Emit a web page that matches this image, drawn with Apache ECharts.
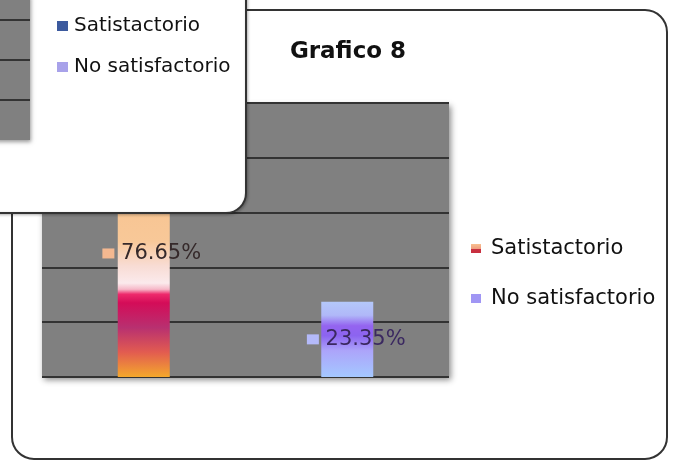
<!DOCTYPE html>
<html>
<head>
<meta charset="utf-8">
<script src="https://cdn.jsdelivr.net/npm/echarts@6/dist/echarts.min.js"></script>
<style>
html,body{margin:0;padding:0;background:#fff;}
#c{width:677px;height:462px;}
</style>
</head>
<body>
<div id="c"></div>
<script>
// ---- data ----
const title = 'Grafico 8';
const categories = ['Satistactorio', 'No satisfactorio'];
const seriesNames = ['Satistactorio', 'No satisfactorio'];
const satisfactorio = [0.7665, '-'];
const noSatisfactorio = ['-', 0.2335];
const axisMax = 0.85;
const axisInterval = 0.17;

const FONT = 'DejaVu Sans';
const chart = echarts.init(document.getElementById('c'));

const grad1 = new echarts.graphic.LinearGradient(0, 0, 0, 1, [
  {offset: 0, color: '#f7be88'},
  {offset: 0.45, color: '#f8c898'},
  {offset: 0.55, color: '#f8dcd4'},
  {offset: 0.62, color: '#fbeaec'},
  {offset: 0.645, color: '#f6b8c8'},
  {offset: 0.665, color: '#ee2a6c'},
  {offset: 0.70, color: '#d40c58'},
  {offset: 0.80, color: '#b83070'},
  {offset: 0.90, color: '#e25c50'},
  {offset: 1, color: '#f4a82c'}
]);
const grad2 = new echarts.graphic.LinearGradient(0, 0, 0, 1, [
  {offset: 0, color: '#b4c8fa'},
  {offset: 0.18, color: '#b0b8f8'},
  {offset: 0.32, color: '#9464f0'},
  {offset: 0.45, color: '#8c64f0'},
  {offset: 0.65, color: '#aca4fa'},
  {offset: 1, color: '#a4c8ff'}
]);
const legendKey1 = new echarts.graphic.LinearGradient(0, 0, 0, 1, [
  {offset: 0, color: '#f8c090'},
  {offset: 0.5, color: '#f0a080'},
  {offset: 0.6, color: '#c83040'},
  {offset: 1, color: '#c83040'}
]);

function pct(v) { return (v * 100).toFixed(2) + '%'; }

const option = {
  animation: false,
  title: {
    text: title,
    left: 343, textAlign: 'center', top: 36,
    textStyle: {fontFamily: FONT, fontSize: 23, fontWeight: 'bold', color: '#111'}
  },
  grid: {
    left: 42, right: 228, top: 103, bottom: 85,
    show: true, backgroundColor: '#808080', borderWidth: 0,
    shadowColor: 'rgba(0,0,0,0.45)', shadowBlur: 6, shadowOffsetX: 2, shadowOffsetY: 3
  },
  xAxis: {
    type: 'category', data: categories,
    axisLine: {show: false}, axisTick: {show: false}, axisLabel: {show: false}
  },
  yAxis: {
    type: 'value', min: 0, max: axisMax, interval: axisInterval,
    axisLine: {show: false}, axisTick: {show: false}, axisLabel: {show: false},
    splitLine: {lineStyle: {color: '#333', width: 2}}
  },
  legend: [
    {
      orient: 'vertical', left: 466, top: 233, itemGap: 29,
      icon: 'rect', itemWidth: 10, itemHeight: 9,
      textStyle: {fontFamily: FONT, fontSize: 21, color: '#111', padding: [0, 0, 0, 5]},
      data: [
        {name: seriesNames[0], itemStyle: {color: legendKey1}},
        {name: seriesNames[1], itemStyle: {color: '#a096f4'}}
      ]
    },
    {
      orient: 'vertical', left: 52, top: 11, itemGap: 21, z: 120,
      icon: 'rect', itemWidth: 11, itemHeight: 10,
      textStyle: {fontFamily: FONT, fontSize: 20, color: '#111', padding: [0, 0, 0, 1]},
      data: [
        {name: seriesNames[0], itemStyle: {color: '#3c5a9e'}},
        {name: seriesNames[1], itemStyle: {color: '#a8a2ea'}}
      ]
    }
  ],
  series: [
    {
      name: seriesNames[0], type: 'bar', stack: 's', barWidth: 52,
      data: satisfactorio,
      itemStyle: {color: grad1},
      label: {
        show: true, position: 'inside', offset: [8, 0],
        formatter: p => '{k|}  {v|' + pct(p.value) + '}',
        rich: {
          k: {width: 12, height: 10, backgroundColor: '#f4b890'},
          v: {fontFamily: FONT, fontSize: 21, color: '#35292a'}
        }
      }
    },
    {
      name: seriesNames[1], type: 'bar', stack: 's', barWidth: 52,
      data: noSatisfactorio,
      itemStyle: {color: grad2},
      label: {
        show: true, position: 'inside', offset: [9, 0],
        formatter: p => '{k|}  {v|' + pct(p.value) + '}',
        rich: {
          k: {width: 12, height: 10, backgroundColor: '#b4bafa'},
          v: {fontFamily: FONT, fontSize: 21, color: '#3a2860'}
        }
      }
    }
  ],
  graphic: [
    // main chart frame
    {type: 'rect', z: -10, shape: {x: 12, y: 10, width: 655, height: 449, r: 22},
     style: {fill: 'transparent', stroke: '#333', lineWidth: 2}},
    // overlapping panel from another chart
    {type: 'rect', z: 100, shape: {x: -30, y: -30, width: 276, height: 243, r: [0, 0, 20, 0]},
     style: {fill: '#fff', stroke: '#333', lineWidth: 2, shadowColor: 'rgba(0,0,0,0.25)', shadowBlur: 3, shadowOffsetX: 1, shadowOffsetY: 1}},
    {type: 'rect', z: 101, shape: {x: -5, y: -5, width: 35, height: 145},
     style: {fill: '#808080', shadowColor: 'rgba(0,0,0,0.4)', shadowBlur: 4, shadowOffsetX: 1, shadowOffsetY: 2}},
    {type: 'line', z: 102, shape: {x1: 0, y1: 20, x2: 30, y2: 20}, style: {stroke: '#333', lineWidth: 2}},
    {type: 'line', z: 102, shape: {x1: 0, y1: 60, x2: 30, y2: 60}, style: {stroke: '#333', lineWidth: 2}},
    {type: 'line', z: 102, shape: {x1: 0, y1: 100, x2: 30, y2: 100}, style: {stroke: '#333', lineWidth: 2}}
  ]
};
chart.setOption(option);
</script>
</body>
</html>
